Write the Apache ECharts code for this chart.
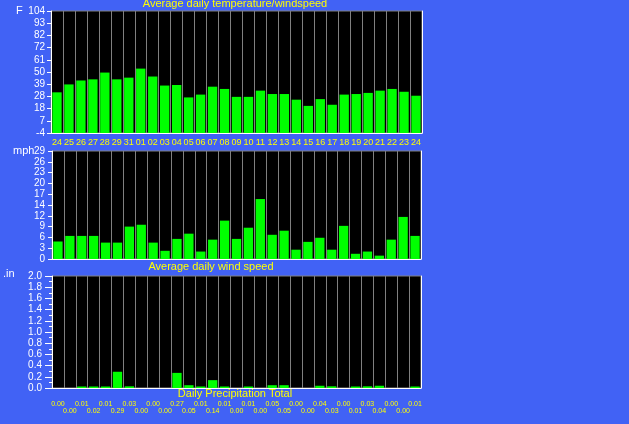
<!DOCTYPE html>
<html><head><meta charset="utf-8">
<script src="https://cdn.jsdelivr.net/npm/echarts@6/dist/echarts.min.js"></script>
<style>html,body{margin:0;padding:0;background:#4162f5;overflow:hidden}#c{width:629px;height:424px}</style>
</head><body><div id="c"></div>
<script>
// ---- data ----
const dates = ['24','25','26','27','28','29','31','01','02','03','04','05','06','07','08','09','10','11','12','13','14','15','16','17','18','19','20','21','22','23','24'];
const temps = [32, 39, 42.5, 43.5, 49.5, 43.5, 45, 53, 46, 38, 38.5, 27.5, 30, 37, 35, 28, 28, 33.5, 30.5, 30.5, 25.5, 20, 26, 21, 30, 30.5, 31.5, 33.5, 35, 32.5, 29];
const winds = [4.7, 6.2, 6.2, 6.2, 4.4, 4.4, 8.7, 9.2, 4.4, 2.2, 5.4, 6.8, 2.0, 5.2, 10.3, 5.4, 8.4, 16.1, 6.5, 7.6, 2.5, 4.6, 5.7, 2.5, 8.9, 1.4, 2.0, 0.9, 5.2, 11.3, 6.2];
const precip = [0.00, 0.00, 0.01, 0.02, 0.01, 0.29, 0.03, 0.00, 0.00, 0.00, 0.27, 0.05, 0.01, 0.14, 0.01, 0.00, 0.01, 0.00, 0.05, 0.05, 0.00, 0.00, 0.04, 0.03, 0.00, 0.01, 0.03, 0.04, 0.00, 0.00, 0.01];
const tempTickValues = [-4, 6.8, 17.6, 28.4, 39.2, 50, 60.8, 71.6, 82.4, 93.2, 104];
const tempTickLabels = ['-4','7','18','28','39','50','61','72','82','93','104'];
const windTickValues = [0, 2.9, 5.8, 8.7, 11.6, 14.5, 17.4, 20.3, 23.2, 26.1, 29];
const windTickLabels = ['0','3','6','9','12','14','17','20','23','26','29'];
const precipTickValues = [0, 0.2, 0.4, 0.6, 0.8, 1.0, 1.2, 1.4, 1.6, 1.8, 2.0];

// ---- styles ----
const FONT = 'Liberation Sans';
const YEL = '#ffff00', WHITE = '#ffffff', GRAY = '#808080', GREEN = '#00ff00';

const chart = echarts.init(document.getElementById('c'), null, {renderer: 'canvas'});

function gridCfg(left, top, width, height) {
  return {left, top, width, height, show: true, backgroundColor: '#000000', borderColor: GRAY, borderWidth: 1, containLabel: false};
}
function xCfg(idx, labelCfg) {
  return {
    gridIndex: idx, type: 'category', data: dates,
    boundaryGap: true,
    axisLine: {onZero: false, lineStyle: {color: WHITE, width: 1}},
    axisTick: {show: false},
    axisLabel: labelCfg,
    splitLine: {show: true, interval: 0, showMinLine: false, showMaxLine: false, lineStyle: {color: GRAY, width: 1}}
  };
}
function rightAxis(idx, min, max) {
  return {gridIndex: idx, type: 'value', position: 'right', min, max,
    axisLine: {show: true, lineStyle: {color: WHITE}}, axisTick: {show: false},
    axisLabel: {show: false}, splitLine: {show: false}};
}

const option = {
  animation: false,
  backgroundColor: '#4162f5',
  grid: [gridCfg(51, 11, 371, 122), gridCfg(52, 151, 369, 108), gridCfg(52, 276, 369, 112)],
  xAxis: [
    xCfg(0, {show: true, interval: 0, color: YEL, fontFamily: FONT, fontSize: 9, margin: 5}),
    xCfg(1, {show: false}),
    xCfg(2, {show: true, interval: 0, color: YEL, fontFamily: FONT, fontSize: 7, lineHeight: 7, margin: 13,
      formatter: (v, i) => (i % 2 ? '\n' : '') + precip[i].toFixed(2)})
  ],
  yAxis: [
    {gridIndex: 0, type: 'value', min: -4, max: 104, startValue: -4,
      axisLine: {show: true, lineStyle: {color: WHITE}},
      axisTick: {show: true, length: 4, customValues: tempTickValues, lineStyle: {color: WHITE}},
      axisLabel: {customValues: tempTickValues, color: WHITE, fontFamily: FONT, fontSize: 10, margin: 6,
        formatter: (v) => tempTickLabels[tempTickValues.findIndex(t => Math.abs(t - v) < 0.01)]},
      splitLine: {show: false}},
    {gridIndex: 1, type: 'value', min: 0, max: 29,
      axisLine: {show: true, lineStyle: {color: WHITE}},
      axisTick: {show: true, length: 4, customValues: windTickValues, lineStyle: {color: WHITE}},
      axisLabel: {customValues: windTickValues, color: WHITE, fontFamily: FONT, fontSize: 10, margin: 7,
        formatter: (v) => windTickLabels[windTickValues.findIndex(t => Math.abs(t - v) < 0.01)]},
      splitLine: {show: false}},
    {gridIndex: 2, type: 'value', min: 0, max: 2, interval: 0.2,
      axisLine: {show: true, lineStyle: {color: WHITE}},
      axisTick: {show: true, length: 7, lineStyle: {color: WHITE}},
      minorTick: {show: true, splitNumber: 2, length: 3, lineStyle: {color: WHITE}},
      axisLabel: {color: WHITE, fontFamily: FONT, fontSize: 10, margin: 10, formatter: (v) => v.toFixed(1)},
      splitLine: {show: false}},
    rightAxis(0, -4, 104), rightAxis(1, 0, 29), rightAxis(2, 0, 2)
  ],
  series: [
    {type: 'bar', xAxisIndex: 0, yAxisIndex: 0, data: temps, barCategoryGap: '22%', itemStyle: {color: GREEN}},
    {type: 'bar', xAxisIndex: 1, yAxisIndex: 1, data: winds, barCategoryGap: '22%', itemStyle: {color: GREEN}},
    {type: 'bar', xAxisIndex: 2, yAxisIndex: 2, data: precip.map(v => v > 0 ? v : null), barCategoryGap: '22%', barMinHeight: 1.5, itemStyle: {color: GREEN}}
  ],
  graphic: [
    {type: 'text', x: 235, y: -2, style: {text: 'Average daily temperature/windspeed', fill: YEL, font: '11px "' + FONT + '"', textAlign: 'center', textVerticalAlign: 'top'}},
    {type: 'text', x: 16, y: 5, style: {text: 'F', fill: WHITE, font: '11px "' + FONT + '"', textAlign: 'left', textVerticalAlign: 'top'}},
    {type: 'text', x: 13, y: 145, style: {text: 'mph', fill: WHITE, font: '11px "' + FONT + '"', textAlign: 'left', textVerticalAlign: 'top'}},
    {type: 'text', x: 211, y: 261, style: {text: 'Average daily wind speed', fill: YEL, font: '11px "' + FONT + '"', textAlign: 'center', textVerticalAlign: 'top'}},
    {type: 'text', x: 3, y: 268, style: {text: '.in', fill: WHITE, font: '11px "' + FONT + '"', textAlign: 'left', textVerticalAlign: 'top'}},
    {type: 'text', x: 235, y: 388, style: {text: 'Daily Precipitation Total', fill: YEL, font: '11px "' + FONT + '"', textAlign: 'center', textVerticalAlign: 'top'}}
  ]
};
chart.setOption(option);
</script>
</body></html>
